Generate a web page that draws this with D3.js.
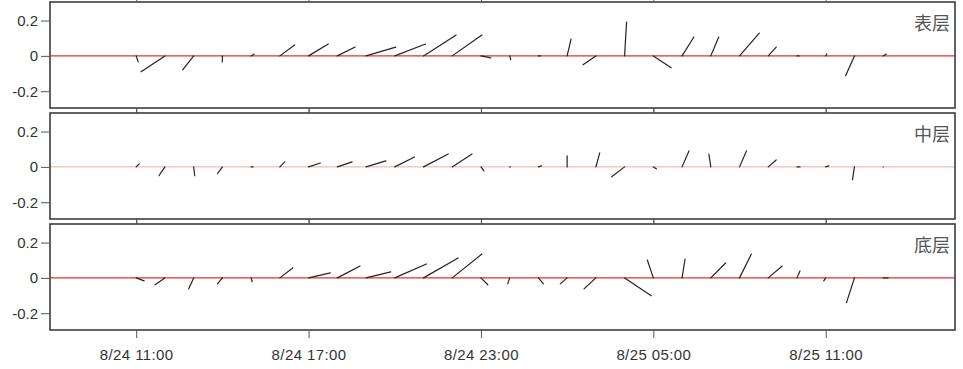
<!DOCTYPE html>
<html>
<head>
<meta charset="utf-8">
<script src="https://cdn.jsdelivr.net/npm/d3@7"></script>
<style>
  html, body { margin: 0; padding: 0; background: #fff; }
  svg { display: block; }
</style>
</head>
<body>
<svg id="chart" width="963" height="369"></svg>
<script>
// ---------- data ----------
const times = [
  "2019-08-24 11:00","2019-08-24 12:00","2019-08-24 13:00","2019-08-24 14:00","2019-08-24 15:00",
  "2019-08-24 16:00","2019-08-24 17:00","2019-08-24 18:00","2019-08-24 19:00","2019-08-24 20:00",
  "2019-08-24 21:00","2019-08-24 22:00","2019-08-24 23:00","2019-08-25 00:00","2019-08-25 01:00",
  "2019-08-25 02:00","2019-08-25 03:00","2019-08-25 04:00","2019-08-25 05:00","2019-08-25 06:00",
  "2019-08-25 07:00","2019-08-25 08:00","2019-08-25 09:00","2019-08-25 10:00","2019-08-25 11:00",
  "2019-08-25 12:00","2019-08-25 13:00"
];
// surface layer (u east, v north, m/s)
const surfaceU = [0.011,-0.135,-0.062,0.000,0.017,0.084,0.112,0.101,0.168,0.174,0.185,0.168,0.056,0.006,0.011,0.022,-0.073,0.011,0.101,0.067,0.045,0.112,0.045,0.011,0.006,-0.050,0.017];
const surfaceV = [-0.034,-0.090,-0.079,-0.034,0.011,0.062,0.067,0.050,0.050,0.067,0.118,0.118,-0.011,-0.022,0.000,0.095,-0.050,0.191,-0.067,0.107,0.107,0.129,0.050,0.000,0.011,-0.112,0.011];
// middle layer
const middleU = [0.017,-0.034,0.006,-0.028,0.011,0.028,0.067,0.084,0.112,0.112,0.140,0.112,0.017,0.003,0.017,0.000,0.022,-0.073,0.017,0.039,-0.011,0.039,0.045,0.017,0.017,-0.011,0.000];
const middleV = [0.017,-0.050,-0.050,-0.039,0.000,0.028,0.022,0.028,0.034,0.056,0.073,0.073,-0.022,0.000,0.006,0.062,0.079,-0.056,-0.011,0.090,0.073,0.090,0.039,0.000,0.006,-0.073,0.000];
// bottom layer
const bottomU = [0.045,-0.056,-0.028,-0.028,0.006,0.073,0.123,0.129,0.140,0.179,0.196,0.168,0.039,-0.011,0.028,-0.039,-0.067,0.151,-0.034,0.017,0.084,0.067,0.079,0.017,-0.011,-0.045,0.028];
const bottomV = [-0.017,-0.039,-0.062,-0.034,-0.022,0.056,0.028,0.067,0.034,0.079,0.112,0.135,-0.039,-0.034,-0.034,-0.034,-0.062,-0.101,0.101,0.107,0.084,0.135,0.067,0.039,-0.017,-0.140,0.000];

const layerNames = ["表层", "中层", "底层"];
const yTicks = [0.2, 0, -0.2];
const yTickLabels = ["0.2", "0", "-0.2"];
const xTicks = ["2019-08-24 11:00","2019-08-24 17:00","2019-08-24 23:00","2019-08-25 05:00","2019-08-25 11:00"];
const xTickLabels = ["8/24 11:00","8/24 17:00","8/24 23:00","8/25 05:00","8/25 11:00"];
const xDomain = ["2019-08-24 08:00","2019-08-25 15:30"];
const yDomain = [-0.295, 0.305];

// ---------- layout ----------
const parse = d3.timeParse("%Y-%m-%d %H:%M");
const svg = d3.select("#chart");
const left = 50, right = 955;
const panelTops = [2, 113, 224];
const panelH = 106;
const zeroColors = ["#e3322b", "#f2a9a9", "#e3322b"];
const zeroWidths = [1.4, 1, 1.4];
const font = "'Liberation Sans', Arial, sans-serif";

const x = d3.scaleTime().domain(xDomain.map(parse)).range([left, right]);
const series = [
  {u: surfaceU, v: surfaceV},
  {u: middleU, v: middleV},
  {u: bottomU, v: bottomV}
];

series.forEach((s, i) => {
  const top = panelTops[i];
  const y = d3.scaleLinear().domain(yDomain).range([top + panelH, top]);
  const k = Math.abs(y(1) - y(0)); // pixels per m/s, same for u and v
  const g = svg.append("g");

  // zero line
  g.append("line")
    .attr("x1", left).attr("x2", right)
    .attr("y1", y(0)).attr("y2", y(0))
    .attr("stroke", zeroColors[i]).attr("stroke-width", zeroWidths[i]);

  // sticks
  const data = times.map((t, j) => ({t: parse(t), u: s.u[j], v: s.v[j]}));
  g.selectAll("line.stick").data(data).enter().append("line")
    .attr("class", "stick")
    .attr("x1", d => x(d.t)).attr("y1", y(0))
    .attr("x2", d => x(d.t) + d.u * k).attr("y2", d => y(d.v))
    .attr("stroke", "#222").attr("stroke-width", 1.2)
    .attr("stroke-linecap", "round");

  // frame
  g.append("rect")
    .attr("x", left).attr("y", top)
    .attr("width", right - left).attr("height", panelH)
    .attr("fill", "none").attr("stroke", "#3c3c3c").attr("stroke-width", 1.6);

  // y axis
  const yAxis = d3.axisLeft(y).tickValues(yTicks)
    .tickFormat((d, j) => yTickLabels[j]).tickSize(9).tickPadding(3);
  const ya = g.append("g").attr("transform", `translate(${left},0)`).call(yAxis);
  ya.select(".domain").remove();
  ya.selectAll("line").attr("stroke", "#555").attr("stroke-width", 1);
  ya.selectAll("text").attr("font-family", font).attr("font-size", 15).attr("fill", "#333");

  // x ticks top and bottom
  const xt = xTicks.map(parse);
  const topAxis = d3.axisTop(x).tickValues(xt).tickSize(5).tickFormat("");
  const ta = g.append("g").attr("transform", `translate(0,${top})`).call(topAxis);
  ta.select(".domain").remove();
  ta.selectAll("line").attr("stroke", "#555");
  const botAxis = d3.axisBottom(x).tickValues(xt).tickSize(i === 2 ? 8 : 5)
    .tickFormat(i === 2 ? ((d, j) => xTickLabels[j]) : "").tickPadding(11);
  const ba = g.append("g").attr("transform", `translate(0,${top + panelH})`).call(botAxis);
  ba.select(".domain").remove();
  ba.selectAll("line").attr("stroke", "#555");
  ba.selectAll("text").attr("font-family", font).attr("font-size", 15)
    .attr("fill", "#333").attr("letter-spacing", 0.4);

  // layer label
  g.append("text")
    .attr("x", 950).attr("y", top + 28)
    .attr("text-anchor", "end")
    .attr("font-family", "'Noto Sans CJK SC', sans-serif")
    .attr("font-size", 18).attr("fill", "#555")
    .text(layerNames[i]);
});
</script>
</body>
</html>
